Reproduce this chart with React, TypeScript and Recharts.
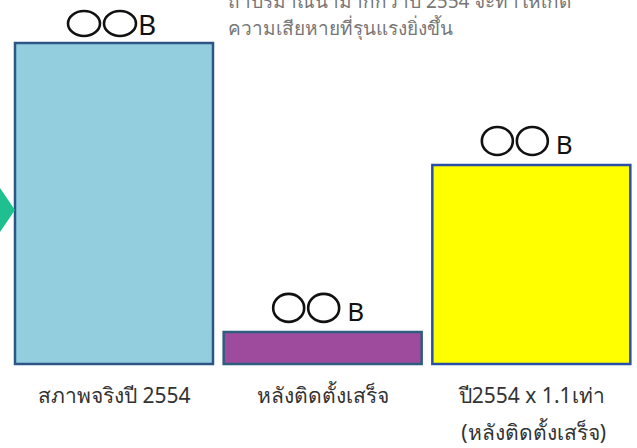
import React from "react";
import { BarChart, Bar, XAxis, YAxis, Cell, LabelList } from "recharts";

const categories = ["สภาพจริงปี 2554", "หลังติดตั้งเสร็จ", "ปี2554 x 1.1เท่า"];
const subLabels = ["", "", "(หลังติดตั้งเสร็จ)"];
const values = [100, 10, 62];
const valueLabels = ["OOB", "OOB", "OOB"];
const fills = ["#93cedf", "#9e4b9e", "#ffff00"];
const strokes = ["#2d5586", "#2f5d7e", "#2b4fa6"];
const noteLines = ["ถ้าปริมาณน้ำมากกว่าปี 2554 จะทำให้เกิด", "ความเสียหายที่รุนแรงยิ่งขึ้น"];

const data = categories.map((c, i) => ({ name: c, sub: subLabels[i], value: values[i], label: valueLabels[i] }));

const FONT = "'Noto Sans', 'Liberation Sans', sans-serif";

const OOBLabel = (props: any) => {
  const { x, y, width, index, value } = props;
  const cx = x + width / 2;
  const big = index === 0;
  const rx = big ? 16 : 15.5;
  const ry = big ? 12.5 : 14;
  const gap = big ? 7 : 10;
  const bottom = y - gap;
  const cy = bottom - ry;
  const total = big ? 92 : 99;
  const left = cx - total / 2;
  const text = String(value);
  return (
    <g>
      <ellipse cx={left + rx} cy={cy} rx={rx} ry={ry} fill="none" stroke="#111" strokeWidth={2.6} />
      <ellipse cx={left + 2 * rx + 4 + rx} cy={cy} rx={rx} ry={ry} fill="none" stroke="#111" strokeWidth={2.6} />
      <text x={left + 4 * rx + (big ? 6 : 12)} y={bottom - 1} fontSize={big ? 28 : 26} fontFamily={FONT} fill="#111" fontWeight={400}>
        {text.slice(2)}
      </text>
    </g>
  );
};

const Tick = (props: any) => {
  const { x, y, payload, index } = props;
  const sub = subLabels[index];
  return (
    <g>
      <text x={x} y={y + 31} textAnchor="middle" fontSize={21} fontFamily={FONT} fill="#333">
        {payload.value}
      </text>
      {sub ? (
        <text x={x + 2} y={y + 68} textAnchor="middle" fontSize={21} fontFamily={FONT} fill="#333">
          {sub}
        </text>
      ) : null}
    </g>
  );
};

export default function App() {
  return (
    <div style={{ position: "absolute", left: 0, top: 0, width: 637, height: 448, background: "#fff", overflow: "hidden" }}>
      <BarChart width={637} height={448} data={data} margin={{ top: 43, right: 1, left: 10, bottom: 0 }} barSize={198}>
        <XAxis dataKey="name" axisLine={false} tickLine={false} height={84} tick={<Tick />} interval={0} />
        <YAxis hide domain={[0, 100]} />
        <Bar dataKey="value" isAnimationActive={false} strokeWidth={2.5}>
          {data.map((d, i) => (
            <Cell key={i} fill={fills[i]} stroke={strokes[i]} />
          ))}
          <LabelList dataKey="label" content={<OOBLabel />} />
        </Bar>
      </BarChart>
      <svg style={{ position: "absolute", left: 0, top: 0 }} width={20} height={448}>
        <polygon points="-8,210 0,188 15,210 0,232" fill="#1fbf90" />
      </svg>
      <div style={{ position: "absolute", left: 228, top: -12, fontFamily: FONT, fontSize: 19, color: "#777", lineHeight: "27px", whiteSpace: "nowrap" }}>
        <div>{noteLines[0]}</div>
        <div>{noteLines[1]}</div>
      </div>
    </div>
  );
}
